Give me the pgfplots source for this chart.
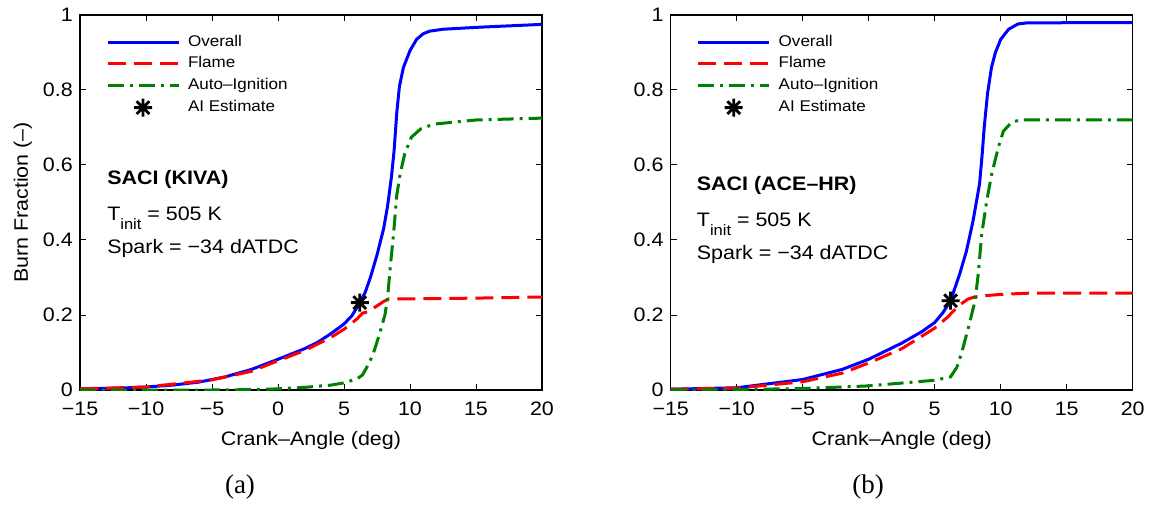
\documentclass[border=0pt]{standalone}
\usepackage{pgfplots}
\pgfplotsset{compat=1.18}
\usepackage{fontspec}
\setmainfont[FakeStretch=1.1]{Liberation Sans}
\newfontfamily\serifA{Liberation Serif}
\pgfdeclareplotmark{star8}{%
 \pgfpathmoveto{\pgfqpoint{-\pgfplotmarksize}{0pt}}\pgfpathlineto{\pgfqpoint{\pgfplotmarksize}{0pt}}%
 \pgfpathmoveto{\pgfqpoint{0pt}{-\pgfplotmarksize}}\pgfpathlineto{\pgfqpoint{0pt}{\pgfplotmarksize}}%
 \pgfpathmoveto{\pgfqpoint{-.7071\pgfplotmarksize}{-.7071\pgfplotmarksize}}\pgfpathlineto{\pgfqpoint{.7071\pgfplotmarksize}{.7071\pgfplotmarksize}}%
 \pgfpathmoveto{\pgfqpoint{-.7071\pgfplotmarksize}{.7071\pgfplotmarksize}}\pgfpathlineto{\pgfqpoint{.7071\pgfplotmarksize}{-.7071\pgfplotmarksize}}%
 \pgfusepathqstroke}
\definecolor{mgreen}{rgb}{0,0.5,0}
\tikzset{ann/.style={anchor=base west, inner sep=0pt, font=\fontsize{19.5}{20}\selectfont}}
\pgfplotsset{myax/.style={
  scale only axis, width=462pt, height=375pt,
  xmin=-15, xmax=20, ymin=0, ymax=1,
  xtick={-15,-10,-5,0,5,10,15,20},
  xticklabels={−15,−10,−5,0,5,10,15,20},
  ytick={0,0.2,0.4,0.6,0.8,1},
  yticklabels={0,0.2,0.4,0.6,0.8,1},
  tick label style={font=\fontsize{19.5}{20}\selectfont, inner sep=1pt},
  xticklabel style={yshift=-11pt},
  yticklabel style={xshift=-6pt},
  axis line style={line width=1.3pt},
  major tick style={line width=1pt, black},
  major tick length=6pt, tick align=inside,
  xlabel={Crank–Angle (deg)},
  xlabel style={font=\fontsize{19.5}{24}\selectfont, at={(axis description cs:0.5,-0.1493)}, anchor=base},
  legend image code/.code={\draw[##1] (0pt,0pt) -- (71pt,0pt);},
  legend style={at={(axis description cs:0.0563,0.949)}, anchor=north west, draw=none, fill=none,
    inner sep=0pt, outer sep=0pt,
    font=\fontsize{15.5}{16}\selectfont, row sep=5.5pt,
    nodes={inner sep=0pt, text height=12pt, text depth=4pt}},
  legend cell align=left,
  every axis legend/.append style={/tikz/every odd column/.append style={column sep=8pt}},
},
starlegend/.style={legend image code/.code={\draw[##1] plot coordinates {(35.5pt,0pt)};}}
}
\pgfplotstableread{
x y
-15 0.003
-12 0.005
-10 0.008
-8 0.013
-6 0.021
-5 0.028
-4 0.035
-2 0.055
0 0.082
2 0.11
3 0.127
4 0.15
5 0.176
5.6 0.198
6.2 0.233
6.6 0.26
7.0 0.30
7.5 0.36
8.0 0.43
8.3 0.49
8.6 0.57
8.8 0.64
9.0 0.74
9.2 0.81
9.5 0.86
10.0 0.905
10.5 0.935
11.0 0.95
11.5 0.957
12.5 0.962
15 0.967
20 0.975
}\aOverall
\pgfplotstableread{
x y
-15 0.003
-10 0.008
-5 0.027
-2 0.05
0 0.078
2 0.105
4 0.14
5 0.162
6 0.19
6.4 0.205
6.8 0.208
7.4 0.222
8.0 0.236
8.4 0.243
9 0.243
10 0.243
15 0.245
20 0.248
}\aFlame
\pgfplotstableread{
x y
-15 0
-5 0.0
-2 0.001
0 0.003
2 0.007
4 0.013
5 0.019
6 0.03
6.4 0.04
6.8 0.065
7.2 0.095
7.7 0.15
8.1 0.2
8.3 0.245
8.5 0.326
8.75 0.415
9.0 0.52
9.25 0.575
9.6 0.63
10.1 0.674
10.8 0.696
11.8 0.709
15 0.72
20 0.725
}\aAI
\pgfplotstableread{
x y
-15 0.002
-10 0.006
-5 0.028
-2 0.055
0 0.082
2.5 0.125
4 0.155
5 0.18
5.6 0.205
6.2 0.238
6.9 0.31
7.4 0.37
7.9 0.45
8.4 0.55
8.6 0.63
8.75 0.70
9.0 0.79
9.3 0.86
9.6 0.9
10.0 0.935
10.6 0.962
11.3 0.976
12 0.979
20 0.98
}\bOverall
\pgfplotstableread{
x y
-15 0.002
-10 0.005
-5 0.022
-2 0.045
0 0.072
2.5 0.11
5 0.165
6 0.195
6.4 0.21
6.9 0.227
7.5 0.242
8.0 0.248
9 0.252
10 0.255
12 0.258
20 0.258
}\bFlame
\pgfplotstableread{
x y
-15 0
-10 0.001
-5 0.004
-2 0.008
0 0.011
3 0.02
5 0.026
6.2 0.035
6.67 0.06
7.05 0.1
7.55 0.166
8.06 0.238
8.3 0.31
8.56 0.415
8.94 0.504
9.32 0.576
9.82 0.647
10.2 0.69
10.83 0.714
11.46 0.72
20 0.72
}\bAI
\begin{document}
\begin{tikzpicture}
\path[use as bounding box] (0pt,0pt) rectangle (1152pt,504pt);
\begin{axis}[myax, at={(80pt,114pt)}, anchor=south west,
  ylabel={Burn Fraction (–)},
  ylabel style={font=\fontsize{19.5}{24}\selectfont, at={(axis description cs:-0.1126,0.5)}, anchor=base}]
\addplot[blue, line width=3pt] table {\aOverall};
\addlegendentry{Overall}
\addplot[red, line width=3pt, dash pattern=on 18pt off 8pt] table {\aFlame};
\addlegendentry{Flame}
\addplot[mgreen, line width=3pt, dash pattern=on 16pt off 6pt on 3pt off 6pt] table {\aAI};
\addlegendentry{Auto–Ignition}
\addplot[only marks, black, mark=star8, mark size=9pt, line width=2.8pt, starlegend] coordinates {(6.2,0.233)};
\addlegendentry{AI Estimate}
\node[ann, font=\fontsize{19.5}{20}\selectfont\bfseries] at (axis cs:-12.95,0.549) {SACI (KIVA)};
\node[ann] at (axis cs:-12.95,0.453) {T\raisebox{-9pt}{\fontsize{15}{15}\selectfont init} = 505 K};
\node[ann] at (axis cs:-12.95,0.365) {Spark = −34 dATDC};
\end{axis}
\begin{axis}[myax, at={(670.7pt,114pt)}, anchor=south west]
\addplot[blue, line width=3pt] table {\bOverall};
\addlegendentry{Overall}
\addplot[red, line width=3pt, dash pattern=on 18pt off 8pt] table {\bFlame};
\addlegendentry{Flame}
\addplot[mgreen, line width=3pt, dash pattern=on 16pt off 6pt on 3pt off 6pt] table {\bAI};
\addlegendentry{Auto–Ignition}
\addplot[only marks, black, mark=star8, mark size=9pt, line width=2.8pt, starlegend] coordinates {(6.2,0.238)};
\addlegendentry{AI Estimate}
\node[ann, font=\fontsize{19.5}{20}\selectfont\bfseries] at (axis cs:-13.03,0.531) {SACI (ACE–HR)};
\node[ann] at (axis cs:-13.03,0.437) {T\raisebox{-9pt}{\fontsize{15}{15}\selectfont init} = 505 K};
\node[ann] at (axis cs:-13.03,0.349) {Spark = −34 dATDC};
\end{axis}
\node[font=\serifA\fontsize{27}{27}\selectfont] at (240pt,17pt) {(a)};
\node[font=\serifA\fontsize{27}{27}\selectfont] at (868pt,17pt) {(b)};
\end{tikzpicture}
\end{document}
